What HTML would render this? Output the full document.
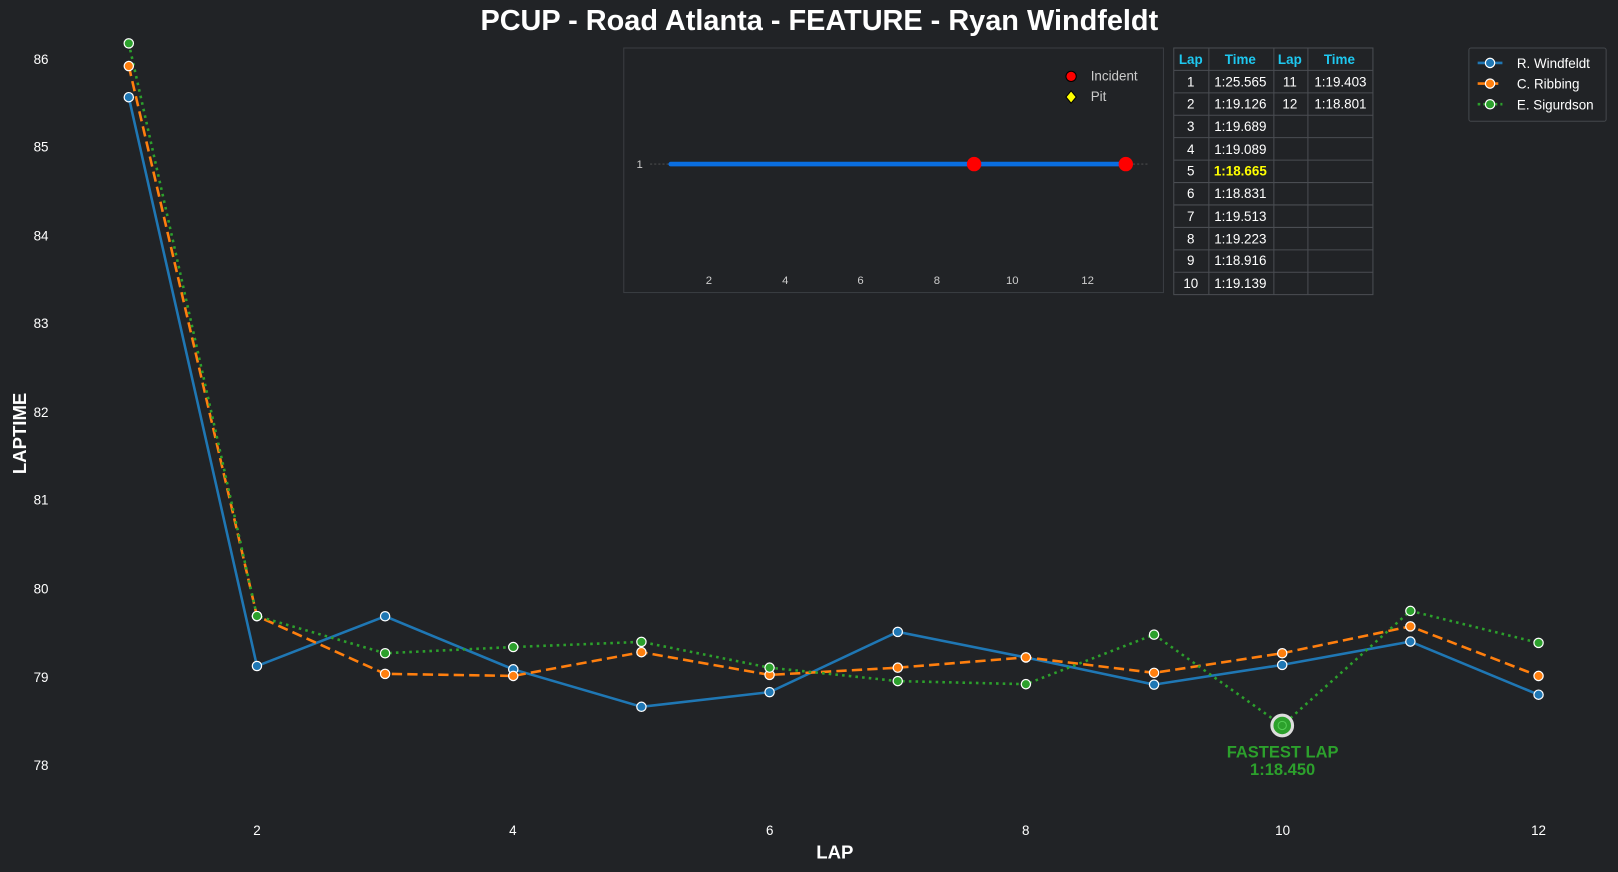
<!DOCTYPE html>
<html><head><meta charset="utf-8"><style>
body{margin:0;background:#212326;}
svg{display:block;font-family:"Liberation Sans",Arial,sans-serif;}
</style></head><body>
<svg width="1618" height="872" viewBox="0 0 1568 845" preserveAspectRatio="none" xmlns="http://www.w3.org/2000/svg">
<rect width="1568" height="845" fill="#212326"/>
<text x="794" y="29" fill="#fff" font-size="28" font-weight="bold" text-anchor="middle">PCUP - Road Atlanta - FEATURE - Ryan Windfeldt</text>
<g fill="#fff" font-size="13" text-anchor="end">
<text x="47" y="62">86</text><text x="47" y="147">85</text><text x="47" y="233">84</text><text x="47" y="318">83</text><text x="47" y="404">82</text><text x="47" y="489">81</text><text x="47" y="575">80</text><text x="47" y="661">79</text><text x="47" y="746">78</text>
</g>
<g fill="#fff" font-size="13" text-anchor="middle">
<text x="249" y="809">2</text><text x="497" y="809">4</text><text x="746" y="809">6</text><text x="994" y="809">8</text><text x="1243" y="809">10</text><text x="1491" y="809">12</text>
</g>
<text x="809" y="832" fill="#fff" font-size="18" font-weight="bold" text-anchor="middle">LAP</text>
<text transform="translate(25,420) rotate(-90)" fill="#fff" font-size="18" font-weight="bold" text-anchor="middle">LAPTIME</text>

<polyline fill="none" stroke="#1f77b4" stroke-width="2.5" points="124.8,94.2 249,645.4 373.2,597.2 497.4,648.6 621.6,684.9 745.8,670.7 870,612.3 994.2,637.1 1118.4,663.4 1242.6,644.3 1366.8,621.7 1491,673.2"/>
<polyline fill="none" stroke="#ff7f0e" stroke-width="2.5" stroke-dasharray="10,5" points="124.8,64 249,597 373.2,653 497.4,655 621.6,632 745.8,654 870,647 994.2,637 1118.4,652 1242.6,633 1366.8,607 1491,655"/>
<polyline fill="none" stroke="#2ca02c" stroke-width="2.5" stroke-dasharray="2.5,4" points="124.8,42 249,597 373.2,633 497.4,627 621.6,622 745.8,647 870,660 994.2,663 1118.4,615 1242.6,703 1366.8,592 1491,623"/>
<g stroke="#fff" stroke-width="1.2">
<g fill="#1f77b4"><circle cx="124.8" cy="94.2" r="4.5"/><circle cx="249" cy="645.4" r="4.5"/><circle cx="373.2" cy="597.2" r="4.5"/><circle cx="497.4" cy="648.6" r="4.5"/><circle cx="621.6" cy="684.9" r="4.5"/><circle cx="745.8" cy="670.7" r="4.5"/><circle cx="870" cy="612.3" r="4.5"/><circle cx="994.2" cy="637.1" r="4.5"/><circle cx="1118.4" cy="663.4" r="4.5"/><circle cx="1242.6" cy="644.3" r="4.5"/><circle cx="1366.8" cy="621.7" r="4.5"/><circle cx="1491" cy="673.2" r="4.5"/></g>
<g fill="#ff7f0e"><circle cx="124.8" cy="64" r="4.5"/><circle cx="249" cy="597" r="4.5"/><circle cx="373.2" cy="653" r="4.5"/><circle cx="497.4" cy="655" r="4.5"/><circle cx="621.6" cy="632" r="4.5"/><circle cx="745.8" cy="654" r="4.5"/><circle cx="870" cy="647" r="4.5"/><circle cx="994.2" cy="637" r="4.5"/><circle cx="1118.4" cy="652" r="4.5"/><circle cx="1242.6" cy="633" r="4.5"/><circle cx="1366.8" cy="607" r="4.5"/><circle cx="1491" cy="655" r="4.5"/></g>
<g fill="#2ca02c"><circle cx="124.8" cy="42" r="4.5"/><circle cx="249" cy="597" r="4.5"/><circle cx="373.2" cy="633" r="4.5"/><circle cx="497.4" cy="627" r="4.5"/><circle cx="621.6" cy="622" r="4.5"/><circle cx="745.8" cy="647" r="4.5"/><circle cx="870" cy="660" r="4.5"/><circle cx="994.2" cy="663" r="4.5"/><circle cx="1118.4" cy="615" r="4.5"/><circle cx="1366.8" cy="592" r="4.5"/><circle cx="1491" cy="623" r="4.5"/></g>
</g>
<circle cx="1242.6" cy="703" r="10" fill="#2ca02c" stroke="#ddd" stroke-width="3"/>
<circle cx="1242.6" cy="703" r="4" fill="none" stroke="#5c5" stroke-width="1"/>
<text x="1243" y="734" fill="#2ca02c" font-size="16" font-weight="bold" text-anchor="middle">FASTEST LAP</text>
<text x="1243" y="751" fill="#2ca02c" font-size="16" font-weight="bold" text-anchor="middle">1:18.450</text>

<!-- inset -->
<rect x="604.5" y="46.5" width="523" height="237" fill="#212326" stroke="#3a3d42"/>
<line x1="630" y1="159" x2="1112" y2="159" stroke="#555" stroke-dasharray="2,2" stroke-width="0.8"/>
<text x="623" y="163" fill="#ccc" font-size="11" text-anchor="end">1</text>
<line x1="650" y1="159" x2="1091" y2="159" stroke="#0a6ee0" stroke-width="4.5" stroke-linecap="round"/>
<circle cx="944" cy="159" r="7" fill="#f00"/><circle cx="1091" cy="159" r="7" fill="#f00"/>
<g fill="#ccc" font-size="11" text-anchor="middle">
<text x="687" y="275">2</text><text x="761" y="275">4</text><text x="834" y="275">6</text><text x="908" y="275">8</text><text x="981" y="275">10</text><text x="1054" y="275">12</text>
</g>
<circle cx="1038" cy="74" r="5" fill="#f00" stroke="#000" stroke-width="1"/>
<text x="1057" y="78" fill="#ccc" font-size="13">Incident</text>
<path d="M1038,88 l5,6 l-5,6 l-5,-6z" fill="#ff0" stroke="#000" stroke-width="1"/>
<text x="1057" y="98" fill="#ccc" font-size="13">Pit</text>

<!-- table -->
<g stroke="#4a4d52" stroke-width="1" fill="none">
<rect x="1137.5" y="46.5" width="193" height="239"/>
<line x1="1171.5" y1="46.5" x2="1171.5" y2="285.5"/><line x1="1234.5" y1="46.5" x2="1234.5" y2="285.5"/><line x1="1267.5" y1="46.5" x2="1267.5" y2="285.5"/>
<line x1="1137.5" y1="68.2" x2="1330.5" y2="68.2"/><line x1="1137.5" y1="90" x2="1330.5" y2="90"/><line x1="1137.5" y1="111.7" x2="1330.5" y2="111.7"/><line x1="1137.5" y1="133.4" x2="1330.5" y2="133.4"/><line x1="1137.5" y1="155.2" x2="1330.5" y2="155.2"/><line x1="1137.5" y1="176.9" x2="1330.5" y2="176.9"/><line x1="1137.5" y1="198.6" x2="1330.5" y2="198.6"/><line x1="1137.5" y1="220.4" x2="1330.5" y2="220.4"/><line x1="1137.5" y1="242.1" x2="1330.5" y2="242.1"/><line x1="1137.5" y1="263.8" x2="1330.5" y2="263.8"/>
</g>
<g font-size="13" text-anchor="middle" fill="#fff">
<g fill="#1ec8f0" font-weight="bold"><text x="1154" y="62">Lap</text><text x="1202" y="62">Time</text><text x="1250" y="62">Lap</text><text x="1298" y="62">Time</text></g>
<text x="1154" y="84">1</text><text x="1202" y="84">1:25.565</text><text x="1250" y="84">11</text><text x="1299" y="84">1:19.403</text>
<text x="1154" y="105">2</text><text x="1202" y="105">1:19.126</text><text x="1250" y="105">12</text><text x="1299" y="105">1:18.801</text>
<text x="1154" y="127">3</text><text x="1202" y="127">1:19.689</text>
<text x="1154" y="149">4</text><text x="1202" y="149">1:19.089</text>
<text x="1154" y="170">5</text><text x="1202" y="170" fill="#ff0" font-weight="bold">1:18.665</text>
<text x="1154" y="192">6</text><text x="1202" y="192">1:18.831</text>
<text x="1154" y="214">7</text><text x="1202" y="214">1:19.513</text>
<text x="1154" y="236">8</text><text x="1202" y="236">1:19.223</text>
<text x="1154" y="257">9</text><text x="1202" y="257">1:18.916</text>
<text x="1154" y="279">10</text><text x="1202" y="279">1:19.139</text>
</g>

<!-- legend -->
<rect x="1423.5" y="46.5" width="133" height="71" rx="2" fill="#212326" stroke="#44474c"/>
<line x1="1432" y1="61" x2="1456" y2="61" stroke="#1f77b4" stroke-width="2.5"/><circle cx="1444" cy="61" r="4.5" fill="#1f77b4" stroke="#fff" stroke-width="1.2"/>
<text x="1470" y="66" fill="#fff" font-size="13">R. Windfeldt</text>
<line x1="1432" y1="81" x2="1456" y2="81" stroke="#ff7f0e" stroke-width="2.5" stroke-dasharray="8,4"/><circle cx="1444" cy="81" r="4.5" fill="#ff7f0e" stroke="#fff" stroke-width="1.2"/>
<text x="1470" y="86" fill="#fff" font-size="13">C. Ribbing</text>
<line x1="1432" y1="101" x2="1456" y2="101" stroke="#2ca02c" stroke-width="2.5" stroke-dasharray="2.5,3"/><circle cx="1444" cy="101" r="4.5" fill="#2ca02c" stroke="#fff" stroke-width="1.2"/>
<text x="1470" y="106" fill="#fff" font-size="13">E. Sigurdson</text>
</svg>
</body></html>
